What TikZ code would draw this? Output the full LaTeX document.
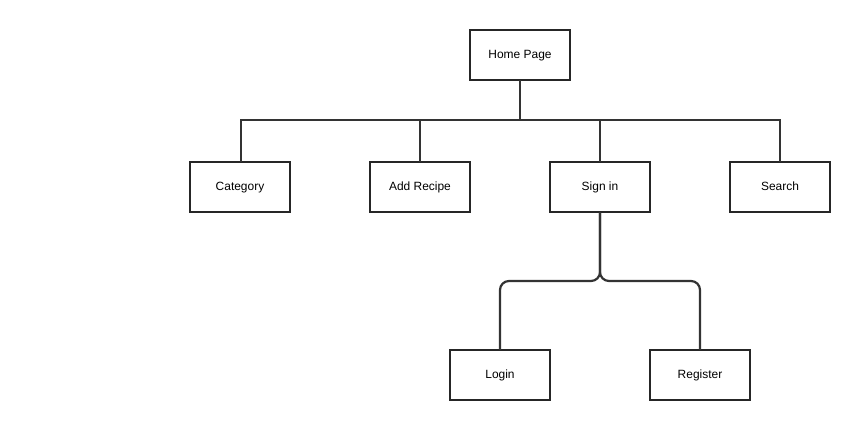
\documentclass[tikz,border=0pt]{standalone}
\usepackage{fontspec}
\setmainfont{Liberation Sans}
\begin{document}
\begin{tikzpicture}[x=1bp,y=-1bp,
  box/.style={draw=black!85,line width=2bp,minimum width=100bp,minimum height=50bp,inner sep=0pt,outer sep=0pt,text height=8.5bp,text depth=2.5bp,font=\fontsize{12}{14}\selectfont,text=black},
  link/.style={draw=black!80,line width=2.2bp}]
\useasboundingbox (0,0) rectangle (856,420);
\node[box] (home) at (520,55) {Home Page};
\node[box] (cat) at (240,187) {Category};
\node[box] (add) at (420,187) {Add Recipe};
\node[box] (sign) at (600,187) {Sign in};
\node[box] (search) at (780,187) {Search};
\node[box] (login) at (500,375) {Login};
\node[box] (reg) at (700,375) {Register};
\coordinate (bus) at (520,120);
\draw[link] (home.south) -- (bus);
\draw[link] (cat.north -| 241,0) -- (241,120) -- (780,120) -- (search.north);
\draw[link] (add.north) -- (add.north |- bus);
\draw[link] (sign.north) -- (sign.north |- bus);
\draw[link,rounded corners=9bp] (sign.south) -- (600,281) -- (500,281) -- (login.north);
\draw[link,rounded corners=9bp] (sign.south) -- (600,281) -- (700,281) -- (reg.north);
\end{tikzpicture}
\end{document}
